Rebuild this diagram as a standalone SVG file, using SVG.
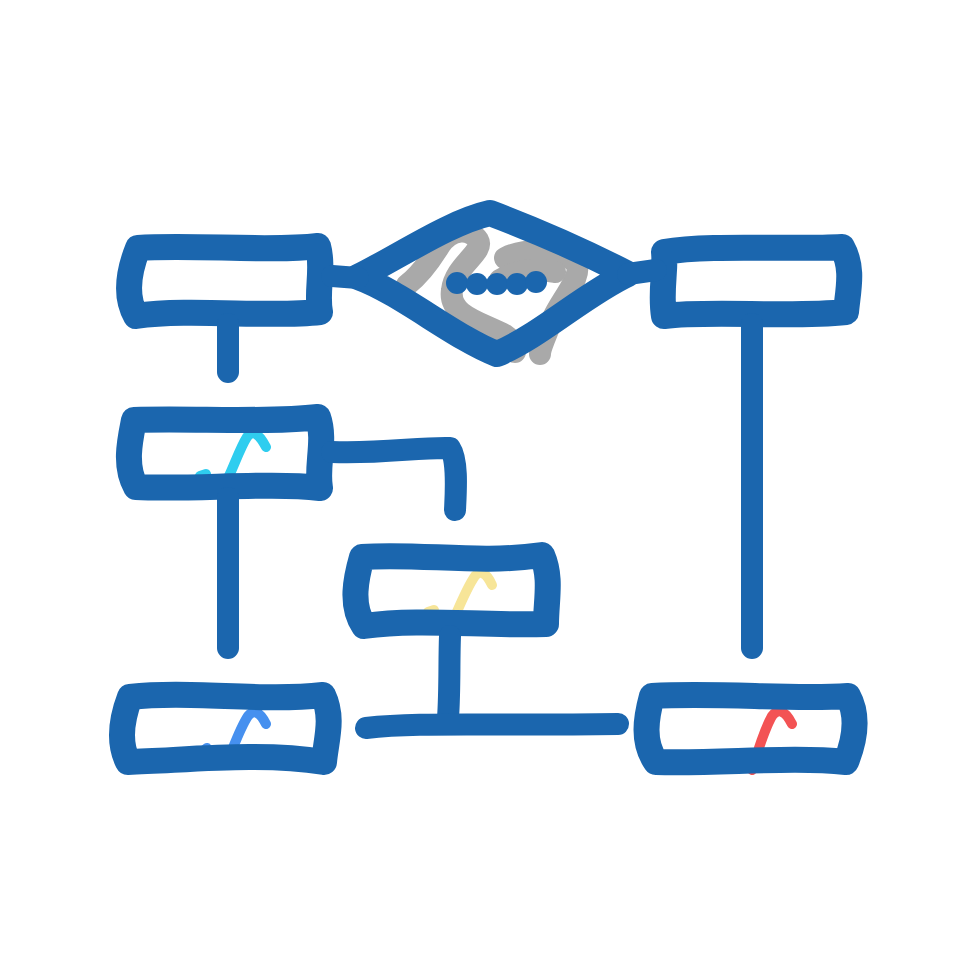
<svg xmlns="http://www.w3.org/2000/svg" width="980" height="980" viewBox="0 0 980 980">
<style>
.b{fill:none;stroke:#1b66ae;stroke-width:26;stroke-linecap:round;stroke-linejoin:round}
.c{fill:none;stroke:#1b66ae;stroke-width:22;stroke-linecap:round;stroke-linejoin:round}
.m{fill:none;stroke-width:10;stroke-linecap:round;stroke-linejoin:round}
.g{fill:none;stroke:#a9a9a9;stroke-width:22;stroke-linecap:round;stroke-linejoin:round}
</style>
<rect width="980" height="980" fill="#fff"/>
<g id="decision">
<path class="g" d="M407,285 C420,275 432,258 440,245 C452,228 470,228 478,240 C485,252 455,265 452,290 C448,315 480,322 505,335 C515,342 515,350 515,352"/>
<path class="g" d="M505,258 C525,248 560,248 575,262 C585,275 560,300 552,320 C545,338 540,348 540,354"/>
<path class="g" d="M500,280 C515,270 535,268 555,272"/>
<path class="b" d="M358,277 C400,256 450,222 490,213 C530,228 585,252 628,274 C585,294 540,336 497,354 C455,338 400,292 358,277 Z"/>
<g fill="#1b66ae"><circle cx="457" cy="283" r="11"/><circle cx="477" cy="284" r="11"/><circle cx="497" cy="284" r="11"/><circle cx="517" cy="284" r="11"/><circle cx="536" cy="282" r="11"/></g>
</g>
<g id="box-top-left"><path class="b" d="M138,248 C190,244 270,252 318,246 C324,268 316,292 320,312 C270,318 190,308 136,316 C124,295 130,268 138,248 Z"/></g>
<g id="box-top-right"><path class="b" d="M664,252 C710,244 790,250 842,247 C854,268 848,290 846,312 C790,318 710,310 664,316 C660,292 666,270 664,252 Z"/></g>
<g id="box-mid-left"><path class="m" stroke="#2fcdef" d="M200,476 L206,474 M228,478 C234,466 240,448 247,437 C252,430 258,432 266,447"/><path class="b" d="M134,420 C190,418 270,423 318,417 C326,440 316,466 320,488 C270,482 190,490 136,487 C124,466 130,440 134,420 Z"/></g>
<g id="box-center"><path class="m" stroke="#f7e598" d="M428,612 L434,610 M456,614 C462,600 468,586 475,576 C480,570 486,572 492,585"/><path class="b" d="M362,557 C420,553 480,564 542,555 C552,578 546,600 546,624 C480,626 420,618 364,626 C350,605 356,578 362,557 Z"/></g>
<g id="box-bottom-left"><path class="m" stroke="#4690ef" d="M202,752 L207,748 M228,760 C234,746 240,728 248,716 C254,709 260,712 266,724"/><path class="b" d="M130,697 C190,690 260,702 323,695 C334,718 326,740 324,762 C260,752 190,760 128,762 C118,742 122,718 130,697 Z"/></g>
<g id="box-bottom-right"><path class="m" stroke="#f35354" d="M734,758 L739,754 M752,770 C758,750 764,730 772,716 C778,708 785,710 792,724"/><path class="b" d="M652,696 C720,692 790,700 848,696 C860,718 854,742 846,762 C790,756 720,764 656,762 C642,742 646,718 652,696 Z"/></g>
<g id="connectors">
<path class="c" d="M332,276 L358,278"/>
<path class="c" d="M628,274 L656,270"/>
<path class="c" d="M228,324 L228,372"/>
<path class="c" d="M752,324 L752,648"/>
<path class="c" d="M332,452 C380,454 420,447 450,448 C458,460 456,490 455,510"/>
<path class="c" d="M228,498 L228,648"/>
<path class="c" d="M450,636 C449,660 450,690 448,718"/>
<path class="c" d="M366,728 C420,722 480,726 618,724"/>
</g>
</svg>
